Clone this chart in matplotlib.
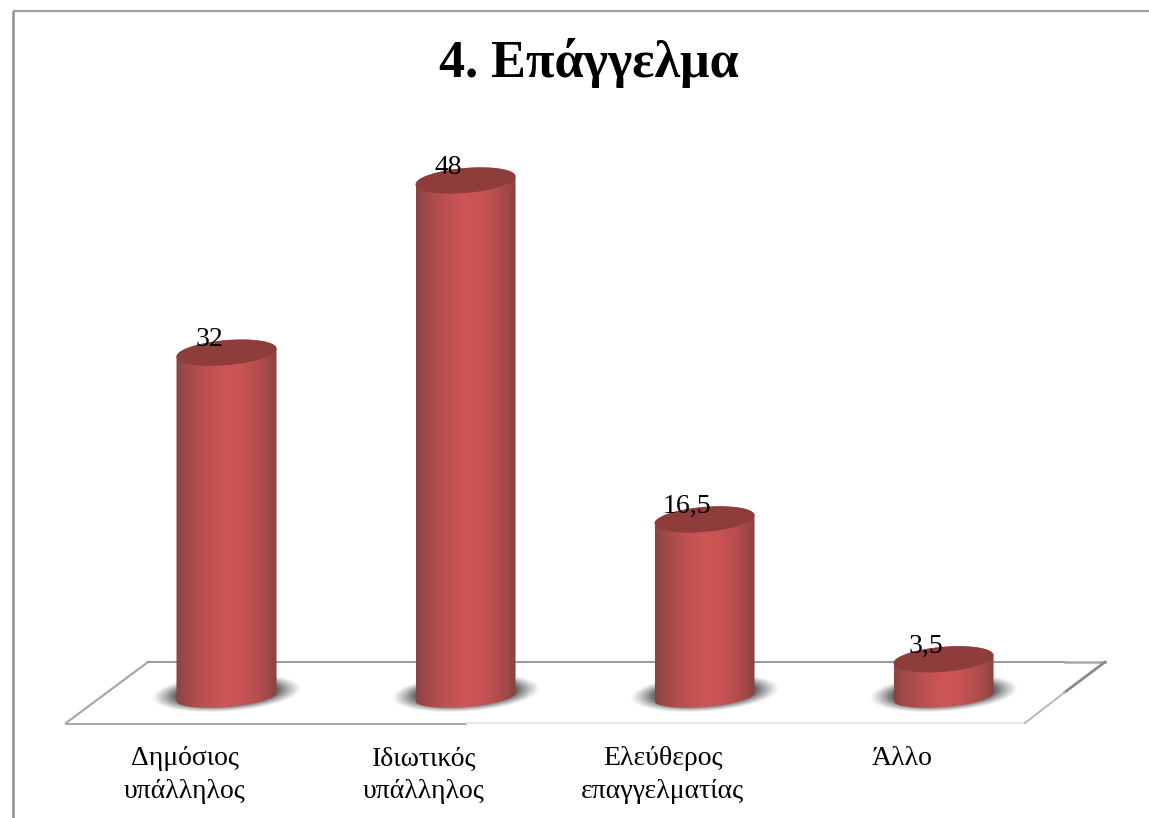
import numpy as np
import matplotlib
matplotlib.use('Agg')
import matplotlib.pyplot as plt
from matplotlib.colors import LinearSegmentedColormap
from matplotlib.patches import PathPatch
from matplotlib.path import Path

W, H = 1149, 818

categories = ['Δημόσιος\nυπάλληλος', 'Ιδιωτικός\nυπάλληλος', 'Ελεύθερος\nεπαγγελματίας', 'Άλλο']
values = [32, 48, 16.5, 3.5]
value_labels = ['32', '48', '16,5', '3,5']

plt.rcParams['font.family'] = ['Liberation Serif', 'DejaVu Serif']

fig = plt.figure(figsize=(W / 100, H / 100), dpi=100, facecolor='white')

# background layer, pixel coordinates
bg = fig.add_axes([0, 0, 1, 1])
bg.set_xlim(0, W)
bg.set_ylim(H, 0)
bg.axis('off')

# outer frame, only left and top are visible
bg.plot([12.5, 12.5], [H, 10.5], color='#909090', lw=1.8, solid_capstyle='butt')
bg.plot([12.5, W], [10.5, 10.5], color='#a0a0a0', lw=1.6, solid_capstyle='butt')

# floor of the 3d plot
bg.plot([66, 148], [723, 662], color='#a8a8a8', lw=1.6)
bg.plot([148, 1065], [662, 662], color='#909090', lw=1.3)
bg.plot([1065, 1105], [662, 662], color='#a8a8a8', lw=1.8)
bg.plot([66, 466], [724, 724], color='#ababab', lw=1.5)
bg.plot([466, 1025], [723, 723], color='#e2e2e2', lw=1.2)
bg.plot([1105, 1065], [662, 692], color='#8a8a8a', lw=2.0)
bg.plot([1065, 1025], [692, 723], color='#b4b4b4', lw=1.3)

bg.text(588.5, 77, '4. Επάγγελμα', fontsize=37.5, fontweight='bold', ha='center', va='baseline', color='black')

# bars layer, y axis in data units
ax = fig.add_axes([0, 0, 1, 1])
ax.patch.set_alpha(0)
ax.axis('off')
scale = 10.76
base_px = 697
spacing = 239
first_px = 226.5

bar_w = 100 / spacing
top_h = 12.5 / scale
base_h = 10 / scale
tilt = 4 / scale

cyl_cmap = LinearSegmentedColormap.from_list('cyl', [
    (0.0, '#8a4342'), (0.1, '#a04a49'), (0.28, '#bb5050'), (0.48, '#cd5656'),
    (0.64, '#c95454'), (0.82, '#b44e4d'), (0.93, '#9c4847'), (1.0, '#874241')])

t = np.linspace(0, 2 * np.pi, 120)

# soft shadow sprite, tilted like the bases
gy, gx = np.mgrid[-1:1:90j, -1:1:160j]
r = np.hypot(gx, gy + 0.25 * gx)
shadow_rgba = np.zeros(r.shape + (4,))
shadow_rgba[..., :3] = 0.36
shadow_rgba[..., 3] = np.clip((1 - r) / 0.32, 0, 1) ** 1.2 * 0.95

for i, v in enumerate(values):
    # shadow under the bar
    sx, sy = 75 / spacing, 19 / scale
    ax.imshow(shadow_rgba, extent=[i - sx, i + sx, 0.37 - sy, 0.37 + sy],
              aspect='auto', zorder=1, interpolation='bilinear')

    # outline of the cylinder: lower half of base ellipse plus upper half of top ellipse
    a = bar_w / 2
    low = np.linspace(np.pi, 2 * np.pi, 50)
    up = np.linspace(0, np.pi, 50)
    xs = np.r_[i + a * np.cos(low), i + a * np.cos(up)]
    ys = np.r_[base_h * np.sin(low) + tilt * np.cos(low), v + top_h * np.sin(up) + tilt * np.cos(up)]
    clip = PathPatch(Path(np.c_[xs, ys]), fc='none', ec='none', transform=ax.transData)
    ax.add_patch(clip)
    im = ax.imshow(np.linspace(0, 1, 200)[None, :], cmap=cyl_cmap, aspect='auto', zorder=2,
                   extent=[i - a, i + a, -base_h - tilt, v + top_h + tilt])
    im.set_clip_path(clip)

    # top face
    ax.fill(i + a * np.cos(t), v + top_h * np.sin(t) + tilt * np.cos(t), color='#8e3d3b', zorder=3, lw=0)

    ax.text(i - 0.072, v + 0.08, value_labels[i], fontsize=20, ha='center', va='bottom', color='black', zorder=4)
    ax.text(i - 0.174, -4.6, categories[i], fontsize=20, ha='center', va='top', color='black', linespacing=1.4, zorder=4)

ax.set_xlim(-first_px / spacing, (W - first_px) / spacing)
ax.set_ylim((base_px - H) / scale, base_px / scale)

fig.savefig('out.png', dpi=100)
